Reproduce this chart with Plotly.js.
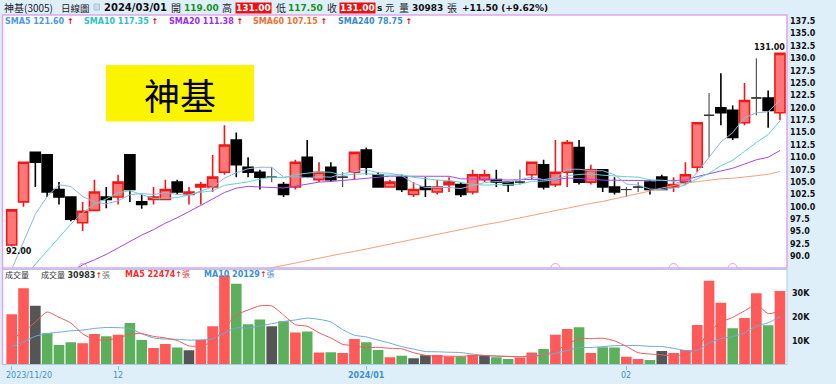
<!DOCTYPE html>
<html><head><meta charset="utf-8">
<script src="https://cdn.plot.ly/plotly-3.0.1.min.js"></script>
<style>html,body{margin:0;padding:0;background:#dfeffa;}#chart{width:836px;height:384px;}</style>
</head><body><div id="chart"></div>
<script>
// ---- data (index 0 = 2023/11/20, last = 2024/03/01) ----
const opens = [92.3,101.0,111.0,110.5,103.5,102.0,96.8,99.3,102.0,102.0,
  110.5,101.0,101.5,101.5,105.0,102.5,104.0,104.0,107.0,113.5,
  108.0,107.0,106.0,104.5,104.0,110.0,105.5,108.0,106.0,107.0,
  111.5,106.5,104.0,106.0,102.5,104.0,103.0,104.5,104.5,103.0,
  105.5,105.5,105.0,105.0,106.5,108.5,104.5,107.0,112.0,105.0,
  107.5,104.0,103.5,104.0,105.0,106.0,104.0,105.0,108.0,118.5,
  120.0,119.5,117.0,122.0,122.0,119.0];
const highs = [99.4,109.0,111.0,110.5,105.0,102.0,101.0,105.5,104.0,106.5,
  110.5,102.5,104.0,105.5,105.5,104.0,105.0,110.5,116.5,115.0,
  110.0,107.5,108.0,105.0,109.5,113.5,109.0,109.0,107.0,111.0,
  112.0,107.0,105.5,106.5,105.0,106.0,105.5,106.0,105.0,107.5,
  107.5,107.5,105.0,107.5,109.0,109.5,113.5,113.5,113.5,108.5,
  107.5,106.0,104.0,105.0,105.5,106.5,106.0,109.0,117.0,123.0,
  127.0,120.5,125.0,130.0,123.5,131.0];
const lows = [92.0,100.0,104.0,102.0,100.5,97.1,95.1,99.1,99.7,100.5,
  101.0,99.6,100.5,101.5,102.5,100.5,100.5,103.0,106.5,106.0,
  106.0,103.5,105.0,102.0,103.5,106.0,105.0,105.0,104.0,105.5,
  106.5,104.0,104.0,103.0,102.0,102.0,102.5,103.0,102.0,102.5,
  105.0,104.0,103.0,104.5,105.5,103.5,104.0,104.0,104.5,104.5,
  103.0,102.5,102.0,103.0,102.5,103.5,103.0,104.5,107.0,110.0,
  116.5,113.5,116.5,118.5,116.0,117.5];
const closes = [99.4,109.0,109.0,103.0,102.0,97.5,99.1,103.0,101.5,105.0,
  103.5,100.5,102.0,103.5,103.0,103.0,104.5,106.0,112.5,108.5,
  107.0,106.0,106.0,102.5,109.0,106.0,107.0,105.5,106.0,111.0,
  108.0,104.0,105.0,103.5,103.5,103.5,104.0,105.0,102.5,106.5,
  106.5,105.0,104.5,105.0,109.0,104.0,107.0,113.0,105.0,107.5,
  104.0,103.0,103.5,104.0,103.5,103.5,104.5,106.5,117.0,118.5,
  119.0,114.0,121.5,122.0,119.5,131.0];
const prevClose0 = 90.4;
const volumes = [21200,32100,24800,13200,8200,9400,9000,12900,11900,12500,
  17500,10300,7000,8600,7200,6000,10300,16100,37500,34000,
  17000,19000,16100,18200,13500,13900,5100,5200,4800,10700,
  9400,6100,3100,3700,2600,3900,4000,3400,3400,4100,
  3900,3100,2300,2900,5100,6500,12500,15000,15700,4800,
  7300,7200,3300,2300,1900,5700,4800,6100,16700,35300,
  26000,15300,19600,30000,16500,30983];
// moving-average values before enough history
const sma5Head  = [87.4,93.1,98.5,102.1];
const sma10Head = [83.0,85.7,88.4,91.2,94.0,96.5,98.8,100.6,101.6];
const sma20Head = [null,null,null,null,null,86.8,88.3,89.3,90.4,91.7,93.0,94.3,95.4,96.7,97.8,99.0,100.3,101.6,102.9];
const sma60Head = [null,null,null,null,null,null,null,null,null,null,null,null,null,null,null,null,null,null,null,null,null,
  87.2,87.7,88.2,88.6,89.1,89.6,90.1,90.6,91.0,91.5,92.0,92.5,93.0,93.5,93.9,94.4,94.9,95.4,95.9,96.4,96.8,97.3,97.8,98.3,98.8,99.2,99.7,100.2,100.7,101.1,101.6,102.1,102.6,103.2,103.8,104.3,104.8,105.1];
const vma5Head  = [10700,13800,17900,22100];
const vma10Head = [7500,9600,11900,13100,13600,14200,14500,15200,15600];
const signalIdx = [6,46,56,61];
const tickIdx = [0,9,30,52];
const tickLabels = ['2023/11/20','12','<b>2024/01</b>','02'];
const priceTicks = [90,92.5,95,97.5,100,102.5,105,107.5,110,112.5,115,117.5,120,122.5,125,127.5,130,132.5,135,137.5];
const volTicks = [10000,20000,30000];
const volTickLabels = ['10K','20K','30K'];

// ---- helpers ----
const W = 836, H = 384;
const px = x => x / W, py = y => 1 - y / H;
const N = closes.length;
const idx = closes.map((_, i) => i);
function ma(arr, n, head) {
  return arr.map((_, i) => {
    if (i < n - 1) return head[i] === undefined ? null : head[i];
    let s = 0; for (let k = i - n + 1; k <= i; k++) s += arr[k];
    return s / n;
  });
}
function subset(pred) {
  const o = {x: [], open: [], high: [], low: [], close: []};
  idx.forEach(i => { if (pred(i)) { o.x.push(i); o.open.push(opens[i]); o.high.push(highs[i]); o.low.push(lows[i]); o.close.push(closes[i]); } });
  return o;
}
const up = subset(i => closes[i] > opens[i]);
const dn = subset(i => closes[i] < opens[i]);
const fl = subset(i => closes[i] === opens[i]);
const volColors = idx.map(i => {
  const pc = i === 0 ? prevClose0 : closes[i - 1];
  return closes[i] > pc ? '#ff5a5a' : (closes[i] < pc ? '#5cb05c' : '#555555');
});

const candleBase = {type: 'candlestick', xaxis: 'x', yaxis: 'y', whiskerwidth: 0, hoverinfo: 'skip', showlegend: false};
const traces = [
  Object.assign({}, candleBase, up, {increasing: {line: {color: '#f01818', width: 1.6}, fillcolor: '#ff7878'}, decreasing: {line: {color: '#f01818', width: 1.6}, fillcolor: '#ff7878'}}),
  Object.assign({}, candleBase, dn, {increasing: {line: {color: '#000', width: 1.6}, fillcolor: '#000'}, decreasing: {line: {color: '#000', width: 1.6}, fillcolor: '#000'}}),
  Object.assign({}, candleBase, fl, {increasing: {line: {color: '#333', width: 1}, fillcolor: '#333'}, decreasing: {line: {color: '#333', width: 1}, fillcolor: '#333'}}),
  {type: 'scatter', mode: 'lines', x: idx, y: ma(closes, 60, sma60Head), line: {color: '#f2a27e', width: 1}, yaxis: 'y', hoverinfo: 'skip'},
  {type: 'scatter', mode: 'lines', x: idx, y: ma(closes, 20, sma20Head), line: {color: '#a447f0', width: 1}, yaxis: 'y', hoverinfo: 'skip'},
  {type: 'scatter', mode: 'lines', x: idx, y: ma(closes, 10, sma10Head), line: {color: '#5cd3d3', width: 1}, yaxis: 'y', hoverinfo: 'skip'},
  {type: 'scatter', mode: 'lines', x: idx, y: ma(closes, 5, sma5Head), line: {color: '#90b6e6', width: 1}, yaxis: 'y', hoverinfo: 'skip'},
  {type: 'scatter', mode: 'markers', x: signalIdx, y: signalIdx.map(() => 87.65), marker: {symbol: 'circle-open', size: 9, color: '#d8a6ea', line: {width: 1}}, yaxis: 'y', hoverinfo: 'skip'},
  {type: 'bar', x: idx, y: volumes, marker: {color: volColors, line: {width: 0}}, xaxis: 'x', yaxis: 'y2', hoverinfo: 'skip'},
  {type: 'scatter', mode: 'lines', x: idx, y: ma(volumes, 10, vma10Head), line: {color: '#6fa8d8', width: 1, shape: 'spline', smoothing: 0.6}, yaxis: 'y2', hoverinfo: 'skip'},
  {type: 'scatter', mode: 'lines', x: idx, y: ma(volumes, 5, vma5Head), line: {color: '#f05a5a', width: 1, shape: 'spline', smoothing: 0.6}, yaxis: 'y2', hoverinfo: 'skip'}
];

const F = 'DejaVu Sans, Noto Sans CJK TC, sans-serif';
const CJK = 'Noto Sans CJK TC, sans-serif';
function ann(text, x, y, font, extra) {
  return Object.assign({xref: 'paper', yref: 'paper', x: px(x), y: py(y), xanchor: 'left', yanchor: 'middle', showarrow: false, text: text, font: font, borderpad: 0}, extra || {});
}
const hdr = 7.8;
const arrow = '<span style="color:#e80000">↑</span>';
const annotations = [
  ann('神基(3005)', 2.5, hdr, {family: CJK, size: 10, color: '#222'}),
  ann('日線圖', 60, hdr, {family: CJK, size: 9.5, color: '#222'}),
  ann('2024/03/01', 102.5, hdr, {family: F, size: 10, color: '#111', weight: 'bold'}),
  ann('開', 169.5, hdr, {family: CJK, size: 10, color: '#222'}),
  ann('119.00', 182.5, hdr, {family: F, size: 9, color: '#17921a', weight: 'bold'}),
  ann('高', 221, hdr, {family: CJK, size: 10, color: '#222'}),
  ann('131.00', 234.8, hdr, {family: F, size: 9, color: '#ffffff', weight: 'bold'}, {bgcolor: '#ec1010'}),
  ann('低', 274.5, hdr, {family: CJK, size: 10, color: '#222'}),
  ann('117.50', 287, hdr, {family: F, size: 9, color: '#17921a', weight: 'bold'}),
  ann('收', 326, hdr, {family: CJK, size: 10, color: '#222'}),
  ann('131.00', 338.8, hdr, {family: F, size: 9, color: '#ffffff', weight: 'bold'}, {bgcolor: '#ec1010'}),
  ann('<b>s</b> 元', 376, hdr, {family: F, size: 9, color: '#222'}),
  ann('量', 398, hdr, {family: CJK, size: 10, color: '#222'}),
  ann('30983', 411, hdr, {family: F, size: 9, color: '#111', weight: 'bold'}),
  ann('張', 445.5, hdr, {family: CJK, size: 10, color: '#222'}),
  ann('+11.50 (+9.62%)', 461, hdr, {family: F, size: 9, color: '#111', weight: 'bold'}),
  // price legend
  ann('SMA5 121.60 ' + arrow, 3.5, 21, {family: F, size: 8, color: '#4f98e2', weight: 'bold'}),
  ann('SMA10 117.35 ' + arrow, 82.5, 21, {family: F, size: 8, color: '#2cc2c2', weight: 'bold'}),
  ann('SMA20 111.38 ' + arrow, 167.5, 21, {family: F, size: 8, color: '#9a2ef0', weight: 'bold'}),
  ann('SMA60 107.15 ' + arrow, 251.5, 21, {family: F, size: 8, color: '#f07030', weight: 'bold'}),
  ann('SMA240 78.75 ' + arrow, 336.5, 21, {family: F, size: 8, color: '#3a88d4', weight: 'bold'}),
  // volume legend
  ann('成交量', 3.5, 274.5, {family: CJK, size: 8, color: '#333'}),
  ann('成交量 <b>30983</b>' + arrow + '<span style="color:#777">張</span>', 40, 274.5, {family: F, size: 8, color: '#333'}),
  ann('<b>MA5 22474</b>' + arrow + '張', 124, 274.5, {family: F, size: 8, color: '#f03030'}),
  ann('<b>MA10 20129</b>' + arrow + '張', 203, 274.5, {family: F, size: 8, color: '#3d8fd6'}),
  // title box text
  ann('神基', 180, 93.5, {family: CJK, size: 36, color: '#000'}, {xanchor: 'center'}),
  // extreme labels
  {xref: 'x', yref: 'y', x: lows.indexOf(Math.min(...lows)), y: Math.min(...lows), xanchor: 'left', yanchor: 'top', xshift: -7, showarrow: false, text: Math.min(...lows).toFixed(2), font: {family: F, size: 8, color: '#111', weight: 'bold'}, borderpad: 0},
  {xref: 'x', yref: 'y', x: highs.indexOf(Math.max(...highs)), y: Math.max(...highs), xanchor: 'right', yanchor: 'bottom', xshift: 6, showarrow: false, text: Math.max(...highs).toFixed(2), font: {family: F, size: 8, color: '#111', weight: 'bold'}, borderpad: 0}
];
// x-axis labels
tickIdx.forEach((t, k) => {
  annotations.push({xref: 'x', yref: 'paper', x: t, y: py(375.5), xanchor: k === 0 ? 'left' : 'center', xshift: k === 0 ? -7 : 0, yanchor: 'middle', showarrow: false, text: tickLabels[k], font: {family: F, size: 8, color: '#3a8fd6'}, borderpad: 0});
});

const shapes = [
  {type: 'rect', xref: 'paper', yref: 'paper', x0: px(94), x1: px(99.5), y0: py(10), y1: py(4), fillcolor: '#cadcea', line: {color: '#a9c1d6', width: 1}},
  {type: 'rect', xref: 'paper', yref: 'paper', x0: px(106), x1: px(254), y0: py(121.5), y1: py(65), fillcolor: '#fbf400', line: {width: 0}, layer: 'below'},
  {type: 'rect', xref: 'paper', yref: 'paper', x0: px(2.5), x1: px(787), y0: py(268), y1: py(15), line: {color: '#e2a6e8', width: 1.5}},
  {type: 'line', xref: 'paper', yref: 'paper', x0: px(2.5), x1: px(2.5), y0: py(268), y1: py(365), line: {color: '#e2a6e8', width: 1.5}},
  {type: 'line', xref: 'paper', yref: 'paper', x0: px(3), x1: px(787), y0: py(269.5), y1: py(269.5), line: {color: '#a9cbe6', width: 1}},
  {type: 'line', xref: 'paper', yref: 'paper', x0: px(787), x1: px(787), y0: py(269.5), y1: py(364.5), line: {color: '#a9cbe6', width: 1}},
  {type: 'line', xref: 'paper', yref: 'paper', x0: px(3), x1: px(787), y0: py(364.5), y1: py(364.5), line: {color: '#a9cbe6', width: 1}}
];

const layout = {
  width: W, height: H, margin: {l: 0, r: 0, t: 0, b: 0},
  paper_bgcolor: '#dfeffa', plot_bgcolor: '#ffffff',
  showlegend: false, hovermode: false, boxgap: 0.15, boxgroupgap: 0, bargap: 0.1,
  xaxis: {domain: [px(3), px(787)], range: [-0.736, 65.594], anchor: 'y2', rangeslider: {visible: false},
    showgrid: false, zeroline: false, showline: false, tickvals: tickIdx, ticks: 'outside', ticklen: 4, tickcolor: '#8cbde0', showticklabels: false, fixedrange: true},
  yaxis: {domain: [py(268), py(15)], range: [87.65, 138.76], side: 'right', anchor: 'x', showgrid: false, zeroline: false, showline: false,
    tickvals: priceTicks, ticktext: priceTicks.map(v => v.toFixed(1)), ticks: '', ticklabelstandoff: 2,
    tickfont: {family: F, size: 8, color: '#111', weight: 'bold'}, fixedrange: true},
  yaxis2: {domain: [py(364.5), py(269.5)], range: [0, 40042], side: 'right', anchor: 'x', showgrid: false, zeroline: false, showline: false,
    tickvals: volTicks, ticktext: volTickLabels, ticks: '', ticklabelstandoff: 4,
    tickfont: {family: F, size: 8, color: '#111', weight: 'bold'}, fixedrange: true},
  annotations: annotations, shapes: shapes
};
Plotly.newPlot('chart', traces, layout, {staticPlot: true, displayModeBar: false});
</script>
</body></html>
